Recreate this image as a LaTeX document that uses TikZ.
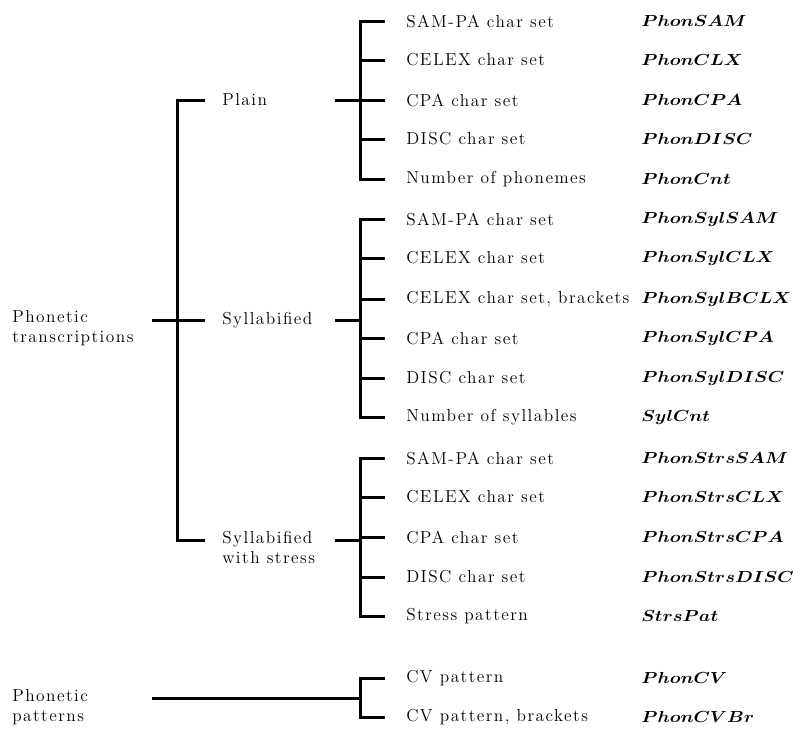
\documentclass[tikz,border=0pt]{standalone}
\usepackage{fontspec}
\setmainfont{Latin Modern Roman}[LetterSpace=8.5]
\usepackage{graphicx}
\usepackage{tikz}

\newcommand{\fld}[1]{\scalebox{1.15}[1]{\boldmath$#1$}}

\begin{document}
\begin{tikzpicture}[
    x=0.75pt, y=-0.75pt,
    lbl/.style={anchor=west, inner sep=0pt, align=left, font=\fontsize{13}{15}\selectfont},
    item/.style={lbl},
    code/.style={lbl},
    brk/.style={line width=2.25pt},
    spine/.style={brk, line cap=rect},
    tick/.style={brk, shorten >=15.75pt}
]
    \useasboundingbox (0,0) rectangle (806,729);

    % Left labels
    \node [lbl] (trans) at (12,328) {Phonetic\\transcriptions};
    \node [lbl] (plain) at (222,100) {Plain};
    \node [lbl] (syl) at (222,320) {Syllabified};
    \node [lbl] (strs) at (222,547) {Syllabified\\with stress};
    \node [lbl] (pat) at (12,707) {Phonetic\\patterns};

    % Plain
    \node [item] (pl1) at (406,21) {SAM-PA char set};
    \node [item] (pl2) at (406,60) {CELEX char set};
    \node [item] (pl3) at (406,100) {CPA char set};
    \node [item] (pl4) at (406,139) {DISC char set};
    \node [item] (pl5) at (406,179) {Number of phonemes};
    \node [code] (cpl1) at (641,21) {\fld{PhonSAM}};
    \node [code] (cpl2) at (641,60) {\fld{PhonCLX}};
    \node [code] (cpl3) at (641,100) {\fld{PhonCPA}};
    \node [code] (cpl4) at (641,139) {\fld{PhonDISC}};
    \node [code] (cpl5) at (641,179) {\fld{PhonCnt}};

    % Syllabified
    \node [item] (sy1) at (406,219) {SAM-PA char set};
    \node [item] (sy2) at (406,258) {CELEX char set};
    \node [item] (sy3) at (406,299) {CELEX char set, brackets};
    \node [item] (sy4) at (406,338) {CPA char set};
    \node [item] (sy5) at (406,378) {DISC char set};
    \node [item] (sy6) at (406,417) {Number of syllables};
    \node [code] (csy1) at (641,219) {\fld{PhonSylSAM}};
    \node [code] (csy2) at (641,258) {\fld{PhonSylCLX}};
    \node [code] (csy3) at (641,299) {\fld{PhonSylBCLX}};
    \node [code] (csy4) at (641,338) {\fld{PhonSylCPA}};
    \node [code] (csy5) at (641,378) {\fld{PhonSylDISC}};
    \node [code] (csy6) at (641,417) {\fld{SylCnt}};

    % Syllabified with stress
    \node [item] (st1) at (406,458) {SAM-PA char set};
    \node [item] (st2) at (406,497) {CELEX char set};
    \node [item] (st3) at (406,537) {CPA char set};
    \node [item] (st4) at (406,577) {DISC char set};
    \node [item] (st5) at (406,616) {Stress pattern};
    \node [code] (cst1) at (641,458) {\fld{PhonStrsSAM}};
    \node [code] (cst2) at (641,497) {\fld{PhonStrsCLX}};
    \node [code] (cst3) at (641,537) {\fld{PhonStrsCPA}};
    \node [code] (cst4) at (641,577) {\fld{PhonStrsDISC}};
    \node [code] (cst5) at (641,616) {\fld{StrsPat}};

    % Patterns
    \node [item] (pt1) at (406,678) {CV pattern};
    \node [item] (pt2) at (406,717) {CV pattern, brackets};
    \node [code] (cpt1) at (641,678) {\fld{PhonCV}};
    \node [code] (cpt2) at (641,717) {\fld{PhonCVBr}};

    % Spine coordinates
    \coordinate (mtop) at (177,100);
    \coordinate (mmid) at (177,320);
    \coordinate (mbot) at (177,540);
    \coordinate (plj) at (360,100);
    \coordinate (syj) at (360,320);
    \coordinate (stj) at (360,540);
    \coordinate (ptj) at (360,698);

    % Main bracket
    \draw [spine] (mtop) -- (mbot);
    \draw [tick, shorten >=12.75pt] (mtop) -- (mtop -| plain.west);
    \draw [tick, shorten >=12.75pt] (mbot) -- (mbot -| strs.west);
    \draw [brk] (mmid) ++(-25,0) -- ([xshift=-12.75pt]syl.west);

    % Group brackets
    \draw [spine] (pl1.west -| plj) -- (pl5.west -| plj);
    \draw [spine] (sy1.west -| syj) -- (sy6.west -| syj);
    \draw [spine] (st1.west -| stj) -- (st5.west -| stj);
    \draw [spine] (pt1.west -| ptj) -- (pt2.west -| ptj);
    \foreach \n in {pl1,pl2,pl3,pl4,pl5,sy1,sy2,sy3,sy4,sy5,sy6,st1,st2,st3,st4,st5,pt1,pt2}
        \draw [tick] (plj |- \n.west) -- (\n.west);

    % Joins to group brackets
    \draw [brk] (plj) -- ++(-25,0);
    \draw [brk] (syj) -- ++(-25,0);
    \draw [brk] (stj) -- ++(-25,0);
    \draw [brk] (ptj) -- ++(-208,0);

\end{tikzpicture}
\end{document}
